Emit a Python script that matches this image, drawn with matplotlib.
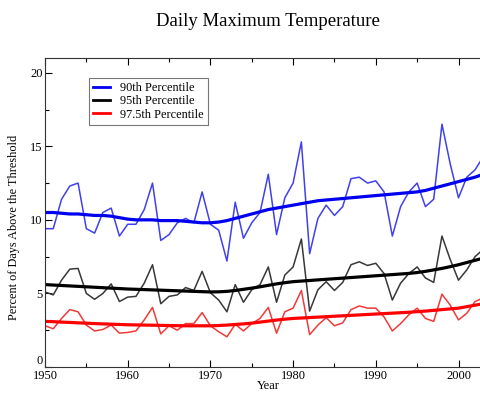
import numpy as np
import matplotlib
matplotlib.use("Agg")
import matplotlib.pyplot as plt
from matplotlib.ticker import MultipleLocator

years = list(range(1950, 2004))

p90 = [9.4, 9.4, 11.4, 12.3, 12.5, 9.4, 9.1, 10.5, 10.8, 8.9,
       9.7, 9.7, 10.7, 12.5, 8.6, 9.0, 9.8, 10.1, 9.8, 11.9,
       9.7, 9.3, 7.2, 11.2, 8.75, 9.8, 10.5, 13.1, 9.0, 11.5,
       12.5, 15.3, 7.7, 10.1, 11.0, 10.3, 10.9, 12.8, 12.9, 12.5,
       12.65, 11.9, 8.9, 10.9, 11.9, 12.5, 10.9, 11.4, 16.5, 13.8,
       11.5, 12.9, 13.4, 14.3]

p95 = [5.1, 4.9, 5.9, 6.65, 6.7, 5.0, 4.6, 5.0, 5.65, 4.45,
       4.75, 4.8, 5.7, 6.95, 4.3, 4.8, 4.9, 5.4, 5.2, 6.5,
       5.05, 4.55, 3.75, 5.6, 4.4, 5.25, 5.6, 6.8, 4.4, 6.25,
       6.8, 8.7, 3.8, 5.25, 5.8, 5.2, 5.75, 6.95, 7.15, 6.9,
       7.05, 6.35, 4.55, 5.7, 6.35, 6.8, 6.05, 5.75, 8.9, 7.3,
       5.9, 6.6, 7.5, 8.0]

p975 = [2.8, 2.6, 3.3, 3.9, 3.75, 2.85, 2.45, 2.55, 2.85, 2.3,
        2.35, 2.45, 3.2, 4.05, 2.25, 2.8, 2.5, 2.95, 2.95, 3.7,
        2.8, 2.4, 2.05, 2.9, 2.45, 2.95, 3.3, 4.05, 2.3, 3.75,
        4.0, 5.2, 2.2, 2.85, 3.35, 2.8, 3.0, 3.9, 4.15, 4.0,
        4.0, 3.4, 2.45, 2.95, 3.55, 4.0, 3.3, 3.1, 4.95, 4.2,
        3.2, 3.65, 4.45, 4.7]

trend90 = [10.5, 10.5, 10.45, 10.4, 10.4, 10.35, 10.3, 10.3, 10.25, 10.15,
           10.05, 10.0, 10.0, 10.0, 9.95, 9.95, 9.95, 9.9, 9.85, 9.8,
           9.8, 9.85, 9.95, 10.1, 10.25, 10.4, 10.55, 10.7, 10.8, 10.9,
           11.0, 11.1, 11.2, 11.3, 11.35, 11.4, 11.45, 11.5, 11.55, 11.6,
           11.65, 11.7, 11.75, 11.8, 11.85, 11.9, 12.0, 12.15, 12.3, 12.45,
           12.6, 12.75, 12.9, 13.1]

trend95 = [5.60, 5.57, 5.54, 5.51, 5.48, 5.45, 5.42, 5.39, 5.36, 5.33,
           5.30, 5.28, 5.26, 5.24, 5.22, 5.20, 5.18, 5.16, 5.14, 5.12,
           5.10, 5.11, 5.14, 5.20, 5.28, 5.36, 5.45, 5.55, 5.65, 5.73,
           5.80, 5.84, 5.88, 5.92, 5.96, 6.00, 6.04, 6.08, 6.12, 6.16,
           6.20, 6.24, 6.28, 6.32, 6.36, 6.42, 6.50, 6.60, 6.70, 6.82,
           6.95, 7.10, 7.25, 7.40]

trend975 = [3.10, 3.08, 3.05, 3.03, 3.00, 2.98, 2.95, 2.93, 2.91, 2.89,
            2.87, 2.86, 2.85, 2.84, 2.83, 2.82, 2.81, 2.80, 2.80, 2.80,
            2.80, 2.82, 2.85, 2.89, 2.93, 2.98, 3.05, 3.12, 3.19, 3.25,
            3.30, 3.33, 3.36, 3.39, 3.42, 3.45, 3.48, 3.51, 3.54, 3.57,
            3.60, 3.63, 3.66, 3.69, 3.72, 3.76, 3.80, 3.85, 3.90, 3.95,
            4.00, 4.10, 4.20, 4.30]

labels = ["90th Percentile", "95th Percentile", "97.5th Percentile"]

plt.rcParams['font.family'] = ['Liberation Serif', 'DejaVu Serif']

fig = plt.figure(figsize=(4.8, 3.94), dpi=100)
W, H = 480.0, 394.0
x0, x1 = 45, 45 + 54 * 8.27
y0, y1 = 367, 58
ax = fig.add_axes([x0 / W, (H - y0) / H, (x1 - x0) / W, (y0 - y1) / H])

ax.plot(years, p90, color='#4040ee', lw=1.1)
ax.plot(years, p95, color='#383838', lw=1.1)
ax.plot(years, p975, color='#f03a3a', lw=1.1)
l1, = ax.plot(years, trend90, color='#0000ee', lw=2.3)
l2, = ax.plot(years, trend95, color='#000000', lw=2.3)
l3, = ax.plot(years, trend975, color='#ff0000', lw=2.3)

ax.set_xlim(1950, 2004)
ax.set_ylim(0, 21)
ax.xaxis.set_major_locator(MultipleLocator(10))
ax.xaxis.set_minor_locator(MultipleLocator(5))
ax.yaxis.set_major_locator(MultipleLocator(5))
ax.yaxis.set_minor_locator(MultipleLocator(2.5))
ax.tick_params(which='both', direction='in', top=True, right=True,
               labelsize=9, width=0.8)
ax.tick_params(axis='x', which='both', pad=2.0)
ax.tick_params(axis='y', which='both', pad=1.5)
ax.tick_params(which='major', length=5)
ax.tick_params(which='minor', length=3)
for s in ax.spines.values():
    s.set_linewidth(0.8)
    s.set_color('#333333')

fig.canvas.draw()
for lbl in ax.get_yticklabels():
    if lbl.get_text() in ('0', '−0', '-0'):
        lbl.set_va('bottom')

ax.set_xlabel("Year", fontsize=9, labelpad=-1.5)
ax.set_ylabel("Percent of Days Above the Threshold", fontsize=8.8)
ax.yaxis.set_label_coords((20 - x0) / (x1 - x0), (y0 - 227) / (y0 - y1))

leg = ax.legend([l1, l2, l3], labels, loc='upper left',
                bbox_to_anchor=((89 - x0) / (x1 - x0), (y0 - 78) / (y0 - y1)),
                fontsize=8.8, frameon=True, fancybox=False, handlelength=1.4,
                handletextpad=0.8, labelspacing=0.1, borderpad=0.35,
                borderaxespad=0.0)
leg.get_frame().set_edgecolor('#555555')
leg.get_frame().set_linewidth(0.8)
for h in leg.get_lines():
    h.set_linewidth(2.0)

fig.text(0.558, 0.945, "Daily Maximum Temperature", ha='center', va='center',
         fontsize=13.5)

fig.savefig("out.png", dpi=100)
